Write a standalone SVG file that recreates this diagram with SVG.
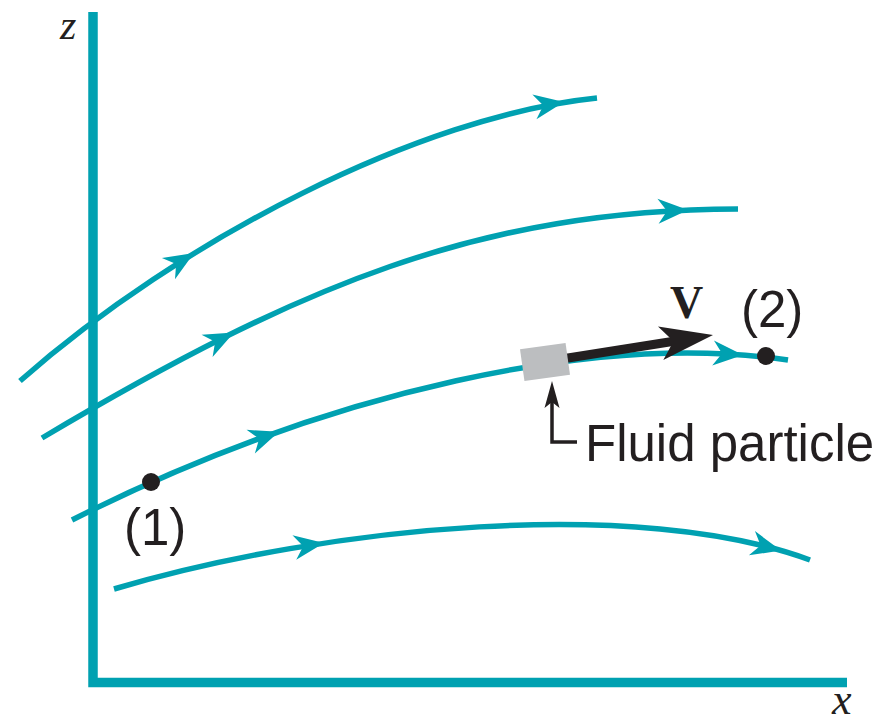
<svg xmlns="http://www.w3.org/2000/svg" xmlns:xlink="http://www.w3.org/1999/xlink" width="892" height="725" viewBox="0 0 892 725">
  <style>
    .axis { fill: none; stroke: #00A1B1; stroke-width: 9.5; stroke-linecap: butt; stroke-linejoin: miter; }
    .stream { fill: none; stroke: #00A1B1; stroke-width: 5.5; stroke-linecap: butt; }
    .ahead { fill: #00A1B1; }
    .lbl { font-family: "Liberation Sans", Arial, sans-serif; font-size: 51px; fill: #231F20; }
    .var { font-family: "Liberation Serif", "Times New Roman", serif; font-style: italic; fill: #231F20; }
    .dot { fill: #231F20; }
  </style>
  <defs>
    <path id="ah" class="ahead" d="M0,0 L-30,-12.5 L-21,0 L-30,12.5 Z"/>
  </defs>
  <rect width="892" height="725" fill="#ffffff"/>

  <g id="axes">
    <path class="axis" d="M93,12 V682.5 H847"/>
    <text class="var" x="60" y="39" font-size="42">z</text>
    <text class="var" x="832" y="714" font-size="44">x</text>
  </g>

  <g id="connectors">
    <path class="stream" d="M20,381 C180,240 420,116 597,98"/>
    <path class="stream" d="M42,438 C300,285 480,210 738,209"/>
    <path class="stream" d="M72,520 C330,390 600,332 788,360"/>
    <path class="stream" d="M114,589 C330,525 640,497 810,560"/>
    <use xlink:href="#ah" href="#ah" transform="translate(194,253) rotate(-31.6)"/>
    <use xlink:href="#ah" href="#ah" transform="translate(564,102) rotate(-9.4)"/>
    <use xlink:href="#ah" href="#ah" transform="translate(234,332.6) rotate(-26.2)"/>
    <use xlink:href="#ah" href="#ah" transform="translate(688,210) rotate(-2.6)"/>
    <use xlink:href="#ah" href="#ah" transform="translate(279,431.7) rotate(-19.4)"/>
    <use xlink:href="#ah" href="#ah" transform="translate(743,355) rotate(4)"/>
    <use xlink:href="#ah" href="#ah" transform="translate(324,543) rotate(-8.6)"/>
    <use xlink:href="#ah" href="#ah" transform="translate(781,550.5) rotate(14)"/>
  </g>

  <g id="point1">
    <circle class="dot" cx="151" cy="482" r="9"/>
    <text class="lbl" x="124" y="545">(1)</text>
  </g>

  <g id="point2">
    <circle class="dot" cx="766" cy="356" r="9"/>
    <text class="lbl" x="741" y="327">(2)</text>
  </g>

  <g id="velocity">
    <g transform="translate(713,335) rotate(-9)">
      <rect x="-150" y="-4.5" width="112" height="9" fill="#231F20"/>
      <path d="M0,0 L-53,-17 L-40,0 L-53,17 Z" fill="#231F20"/>
    </g>
    <text x="670" y="318" font-family="'Liberation Serif', 'Times New Roman', serif" font-weight="bold" font-size="46" fill="#231F20">V</text>
  </g>

  <g id="particle">
    <rect x="-23" y="-16" width="46" height="32" fill="#BCBEC0" transform="translate(545,362) rotate(-8)"/>
  </g>

  <g id="particle-label">
    <path d="M552,398 V442 H577" fill="none" stroke="#231F20" stroke-width="3.5"/>
    <path d="M552,381 L544.5,408 L552,402 L559.5,408 Z" fill="#231F20"/>
    <text class="lbl" x="585" y="461">Fluid particle</text>
  </g>
</svg>
